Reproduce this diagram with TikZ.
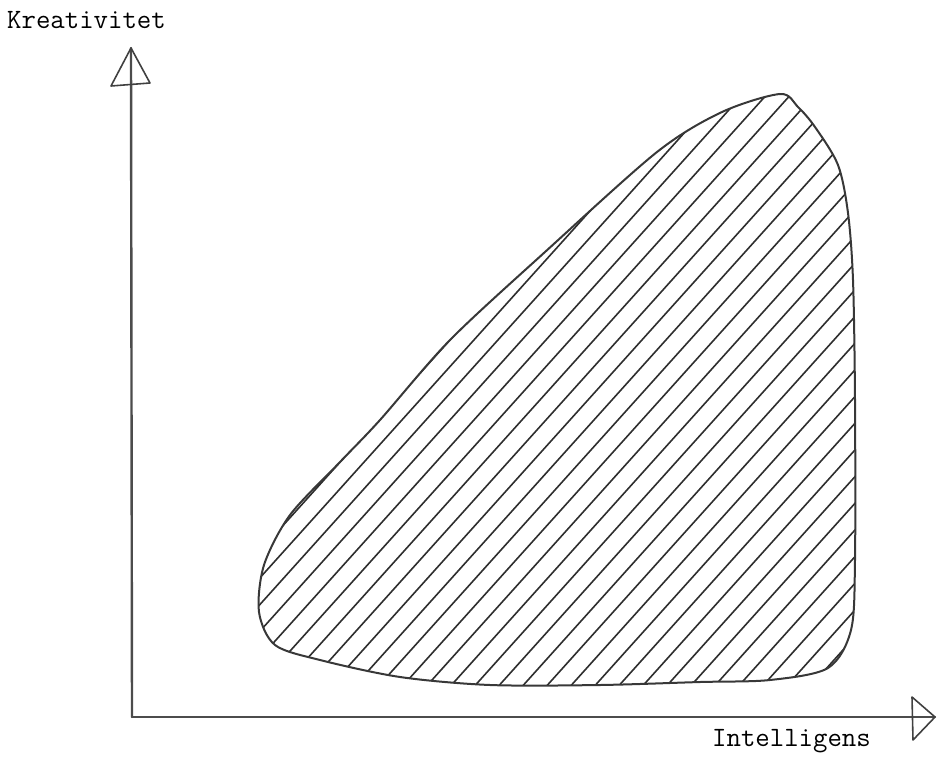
\documentclass[tikz,border=0pt]{standalone}
\usepackage{fontspec}
\begin{document}
\begin{tikzpicture}[x=1pt,y=-1pt,
  axisline/.style={draw=black!70,line width=2.4pt,line cap=round,line join=round},
  arrowhead/.style={draw=black!75,line width=1.6pt,line join=round},
  outline/.style={draw=black!78,line width=2pt},
  hatchline/.style={draw=black!82,line width=1.6pt},
  lbl/.style={inner sep=0pt,anchor=base west,font=\fontsize{28}{30}\selectfont\ttfamily,text=black}]
\useasboundingbox (0,0) rectangle (937,763);
% axes
\coordinate (O) at (132,717);
\coordinate (ytip) at (131,48);
\coordinate (xtip) at (935,717);
\draw[axisline] (O) -- (ytip);
\draw[axisline] (O) -- (xtip);
\draw[arrowhead] (ytip) -- (150,83) -- (111,86) -- cycle;
\draw[arrowhead] (xtip) -- (913,740) -- (912,697) -- cycle;
% labels
\node[lbl] (ky) at (7,28) {Kreativitet};
\node[lbl] (kx) at (712,746) {Intelligens};
% blob
\def\blob{plot[smooth cycle,tension=0.5] coordinates {
 (780,94) (798,107) (815,127) (838,165) (848,213) (853,280) (855,400) (855,560)
 (851,630) (828,668) (770,680) (700,682) (600,685) (490,685) (400,677)
 (320,660) (275,645) (259,612) (264,565) (290,515) (340,462) (380,420) (450,340)
 (545,252) (657,152) (722,112)}}
\begin{scope}
\clip \blob;
\foreach \k in {-30,...,35} {
  \draw[hatchline] ({276+24*\k},720) -- ++(700,-778);
}
\end{scope}
\draw[outline] \blob;
\end{tikzpicture}
\end{document}
